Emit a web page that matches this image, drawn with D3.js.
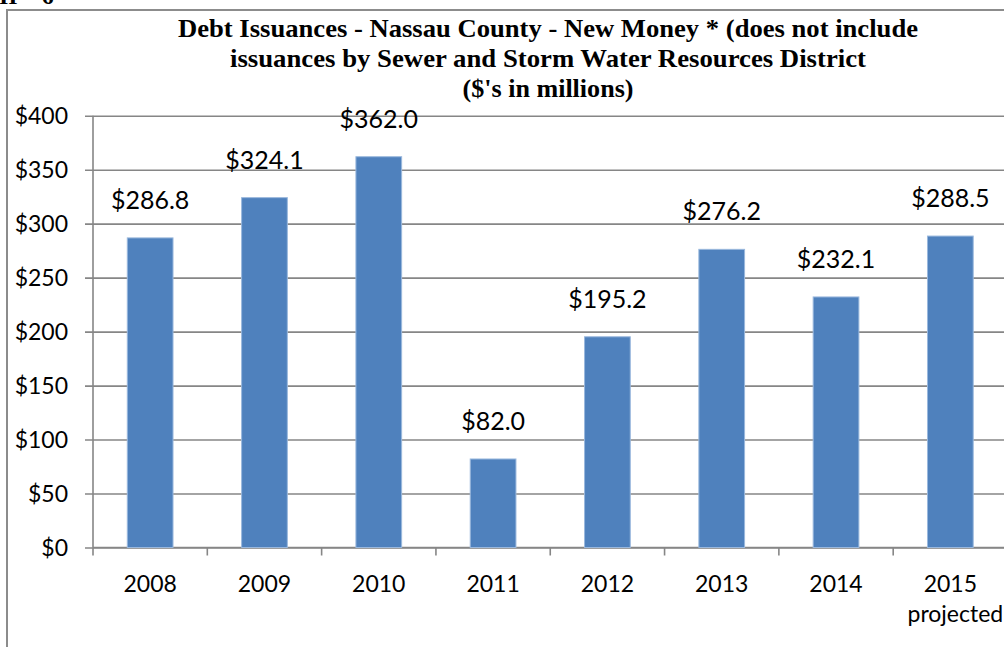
<!DOCTYPE html>
<html>
<head>
<meta charset="utf-8">
<script src="https://cdn.jsdelivr.net/npm/d3@7"></script>
<style>
  body { margin: 0; background: #fff; }
  svg { display: block; }
  .tick-label { font-family: Lato, "Liberation Sans", sans-serif; font-size: 23px; fill: #000; }
  .label { font-family: Lato, "Liberation Sans", sans-serif; font-size: 25px; fill: #000; }
  .title { font-family: "Liberation Serif", "DejaVu Serif", serif; font-weight: bold; font-size: 25px; fill: #000; }
</style>
</head>
<body>
<svg></svg>
<script>
const YEARS = ['2008', '2009', '2010', '2011', '2012', '2013', '2014', '2015'];
const YEAR_NOTES = ['', '', '', '', '', '', '', 'projected'];
const NEW_MONEY = [286.8, 324.1, 362.0, 82.0, 195.2, 276.2, 232.1, 288.5];
const Y_TICKS = [0, 50, 100, 150, 200, 250, 300, 350, 400];
const TITLE_LINES = [
  'Debt Issuances - Nassau County - New Money * (does not include',
  'issuances by Sewer and Storm Water Resources District',
  "($'s in millions)"
];

const WIDTH = 1004;
const HEIGHT = 647;
const PLOT = { left: 93, right: 1007.5, top: 115.7, bottom: 547.5 };
const GRID = '#868686';

const svg = d3.select('svg')
  .attr('width', WIDTH)
  .attr('height', HEIGHT);

// page fragment cut off at top
svg.append('text')
  .attr('class', 'title')
  .attr('x', -1)
  .attr('y', 4)
  .style('font-size', '24px')
  .text('II \u2013 6');

// chart frame (runs off the page right and bottom)
svg.append('rect')
  .attr('x', 7)
  .attr('y', 10)
  .attr('width', WIDTH + 20)
  .attr('height', HEIGHT + 20)
  .attr('fill', 'none')
  .attr('stroke', '#8c8c8c')
  .attr('stroke-width', 2);

const x = d3.scaleBand()
  .domain(YEARS)
  .range([PLOT.left, PLOT.right])
  .paddingInner(0.6)
  .paddingOuter(0.3);

const y = d3.scaleLinear()
  .domain([0, 400])
  .range([PLOT.bottom, PLOT.top]);

// title, squeezed to the widths of the original lines
const titleWidths = [740, 636, 171];
svg.selectAll('.title-line')
  .data(TITLE_LINES)
  .enter()
  .append('text')
  .attr('class', 'title title-line')
  .attr('x', 548)
  .attr('y', (d, i) => 37 + i * 30)
  .attr('text-anchor', 'middle')
  .attr('textLength', (d, i) => titleWidths[i])
  .attr('lengthAdjust', 'spacingAndGlyphs')
  .text(d => d);

// gridlines + y axis
const yAxis = svg.append('g')
  .attr('transform', `translate(${PLOT.left},0)`)
  .call(d3.axisLeft(y)
    .tickValues(Y_TICKS)
    .tickSize(-(WIDTH - PLOT.left))
    .tickSizeOuter(0)
    .tickPadding(0)
    .tickFormat(d => '$' + d));

yAxis.select('.domain').remove();
yAxis.selectAll('.tick line')
  .attr('x1', -8)
  .attr('stroke', GRID)
  .attr('stroke-width', 1.6);
yAxis.selectAll('.tick text')
  .attr('class', 'tick-label')
  .attr('x', -25)
  .attr('dy', '0.35em')
  .attr('font-family', null)
  .attr('font-size', null);

svg.append('line')
  .attr('x1', PLOT.left)
  .attr('x2', PLOT.left)
  .attr('y1', PLOT.top)
  .attr('y2', PLOT.bottom)
  .attr('stroke', GRID)
  .attr('stroke-width', 1.6);

// x axis: ticks between categories
const xAxis = svg.append('g')
  .attr('transform', `translate(0,${PLOT.bottom})`);

xAxis.selectAll('.xtick')
  .data(YEARS)
  .enter()
  .append('line')
  .attr('x1', d => x(d) - x.step() * x.paddingInner() / 2)
  .attr('x2', d => x(d) - x.step() * x.paddingInner() / 2)
  .attr('y1', 0)
  .attr('y2', 8)
  .attr('stroke', GRID)
  .attr('stroke-width', 1.6);

xAxis.append('line')
  .attr('x1', PLOT.left)
  .attr('x2', WIDTH)
  .attr('stroke', GRID)
  .attr('stroke-width', 1.6);

const xLabels = xAxis.selectAll('.xlabel')
  .data(YEARS)
  .enter()
  .append('text')
  .attr('class', 'tick-label xlabel')
  .attr('text-anchor', 'middle')
  .attr('x', d => x(d) + x.bandwidth() / 2)
  .attr('y', 44);

xLabels.append('tspan')
  .text(d => d);
xLabels.append('tspan')
  .attr('x', d => x(d) + x.bandwidth() / 2 + 5)
  .attr('dy', 30)
  .text((d, i) => YEAR_NOTES[i]);

// bars
svg.selectAll('.bar')
  .data(NEW_MONEY)
  .enter()
  .append('rect')
  .attr('class', 'bar')
  .attr('x', (d, i) => x(YEARS[i]))
  .attr('width', x.bandwidth())
  .attr('y', d => y(d))
  .attr('height', d => y(0) - y(d))
  .attr('fill', '#4f81bd')
  .attr('stroke', '#9ab8dd')
  .attr('stroke-width', 1);

// value labels
svg.selectAll('.label')
  .data(NEW_MONEY)
  .enter()
  .append('text')
  .attr('class', 'label')
  .attr('text-anchor', 'middle')
  .attr('x', (d, i) => x(YEARS[i]) + x.bandwidth() / 2)
  .attr('y', d => y(d) - 29)
  .text(d => '$' + d.toFixed(1));
</script>
</body>
</html>
